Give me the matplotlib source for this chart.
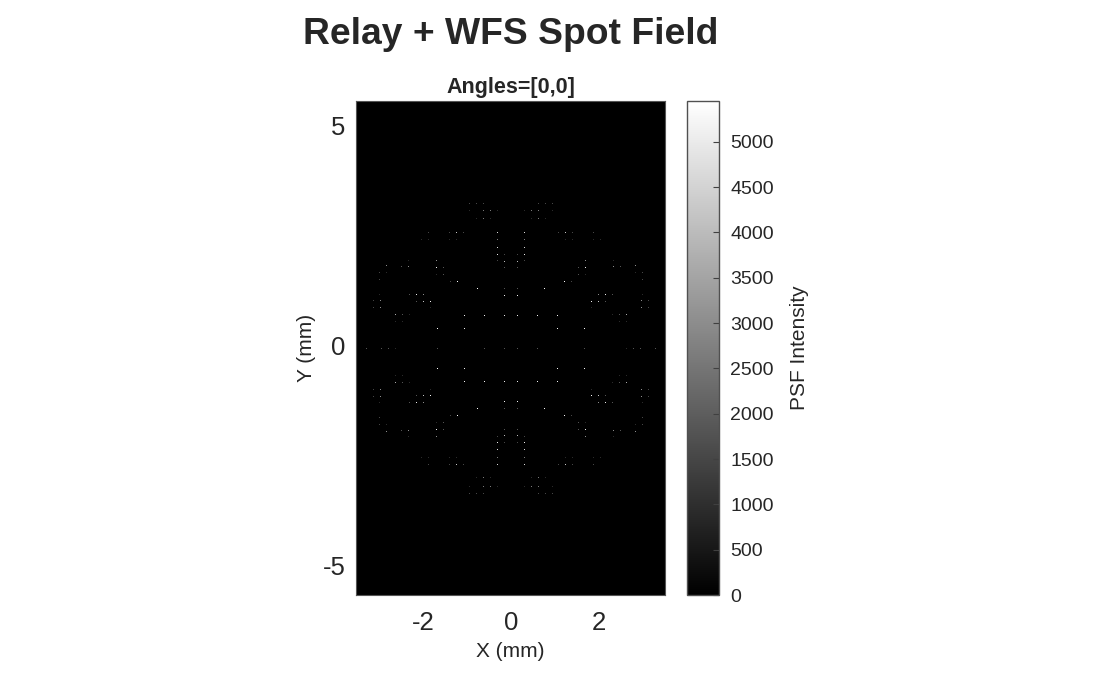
import numpy as np
import matplotlib
matplotlib.use("Agg")
import matplotlib.pyplot as plt
from matplotlib.transforms import ScaledTranslation

plt.rcParams['font.family'] = ['Liberation Sans', 'DejaVu Sans']

W, H = 1120, 674
text_col = '#262626'

# spots of the upper left quadrant: |x| mm, y mm, intensity
# the field is mirror symmetric about x=0 and y=0, so the other quadrants reuse these
spot_x = [
    0.95, 0.79, 0.63,
    0.95, 0.63, 0.47, 0.31,
    0.79, 0.63, 0.47,
    1.89, 1.41, 1.25, 1.09, 0.31,
    2.05, 1.89, 1.41, 1.25, 0.31,
    0.31,
    0.31, 0.15,
    1.70, 2.34, 0.31, 0.15,
    2.85,
    2.50, 2.34,
    1.70, 1.54, 0.15,
    3.01, 2.85,
    1.70, 1.54,
    3.01,
    1.38, 1.22,
    0.77, 0.15,
    2.32, 2.16, 2.00, 3.01,
    0.15,
    3.14, 2.98,
    2.16, 2.00, 1.84,
    3.14, 2.98, 1.84,
    2.64, 2.48, 2.32,
    1.06, 0.61, 0.15,
    2.64, 2.48,
    1.68, 1.06,
    3.30, 2.96, 2.80, 2.64, 1.68, 0.61, 0.15,
]
spot_y = [
    3.30, 3.30, 3.30,
    3.14, 3.14, 3.14, 3.14,
    2.95, 2.95, 2.95,
    2.64, 2.64, 2.64, 2.64, 2.64,
    2.48, 2.48, 2.48, 2.48, 2.48,
    2.30,
    2.14, 2.14,
    2.00, 2.00, 2.00, 1.98,
    1.89,
    1.86, 1.86,
    1.84, 1.84, 1.84,
    1.73, 1.73,
    1.68, 1.68,
    1.57,
    1.52, 1.52,
    1.36, 1.36,
    1.23, 1.23, 1.23, 1.23,
    1.20,
    1.09, 1.09,
    1.07, 1.07, 1.07,
    0.93, 0.93, 0.93,
    0.77, 0.77, 0.77,
    0.75, 0.75, 0.75,
    0.61, 0.61,
    0.45, 0.45,
    0.0, 0.0, 0.0, 0.0, 0.0, 0.0, 0.0,
]
spot_i = [
    1500, 1500, 1500,
    900, 2600, 2600, 900,
    900, 2600, 900,
    1500, 1500, 4200, 1500, 4600,
    900, 900, 900, 900, 2600,
    4600,
    5000, 1500,
    3000, 900, 1500, 4000,
    3000,
    1800, 3000,
    5200, 1800, 1800,
    1500, 900,
    900, 1800,
    1500,
    1500, 5400,
    5400, 1800,
    1800, 5000, 3000, 900,
    5200,
    1500, 3000,
    1800, 4200, 5200,
    1500, 3000, 900,
    3600, 1800, 900,
    5200, 5200, 5000,
    900, 900,
    5400, 5200,
    1800, 1800, 1800, 900, 1800, 1800, 1800,
]

x_ticks = [-2, 0, 2]
y_ticks = [-5, 0, 5]
cbar_ticks = [0, 500, 1000, 1500, 2000, 2500, 3000, 3500, 4000, 4500, 5000]
x_range = (-3.54, 3.52)
y_range = (-5.61, 5.62)
i_max = 5450


def px_axes(fig, left, top, right, bottom):
    return fig.add_axes([left / W, 1 - bottom / H, (right - left) / W, (bottom - top) / H])


fig = plt.figure(figsize=(W / 100, H / 100), dpi=100)
ax = px_axes(fig, 356, 101, 665, 595)
cax = px_axes(fig, 687, 101, 719, 595)

# one image cell per screen pixel, as the spots are single pixels in the reference
nx, ny = 309, 494
field = np.zeros((ny, nx))
x_edges = np.linspace(x_range[0], x_range[1], nx + 1)
y_edges = np.linspace(y_range[0], y_range[1], ny + 1)
for sx in (-1, 1):
    for sy in (-1, 1):
        for x, y, v in zip(spot_x, spot_y, spot_i):
            col = np.searchsorted(x_edges, sx * x) - 1
            row = np.searchsorted(y_edges, sy * y) - 1
            field[row, col] = v

im = ax.imshow(field, cmap='gray', vmin=0, vmax=i_max, origin='lower', aspect='auto',
               extent=[x_range[0], x_range[1], y_range[0], y_range[1]], interpolation='nearest')
ax.set_xticks(x_ticks)
ax.set_yticks(y_ticks)
ax.set_yticklabels(['-5', '0', '5'])
ax.set_xticklabels(['-2', '0', '2'])
ax.tick_params(axis='x', length=0, labelsize=18.5, labelcolor=text_col, pad=11.5)
ax.tick_params(axis='y', length=0, labelsize=18.5, labelcolor=text_col, pad=7.5)
# y tick labels sit a little above their spot rows in the reference
up = ScaledTranslation(0, 2 / 72, fig.dpi_scale_trans)
for lab in ax.get_yticklabels():
    lab.set_transform(lab.get_transform() + up)
ax.set_xlabel('X (mm)', fontsize=15, color=text_col, labelpad=5)
ax.set_ylabel('Y (mm)', fontsize=15, color=text_col, labelpad=5, y=0.5)
ax.set_title('Angles=[0,0]', fontsize=15.5, fontweight='bold', color=text_col, pad=6)
for s in ax.spines.values():
    s.set_color('#555555')
    s.set_linewidth(0.8)

cb = fig.colorbar(im, cax=cax)
cb.set_ticks(cbar_ticks)
cb.ax.tick_params(direction='in', length=4, width=0.8, color='#404040',
                  labelsize=14, labelcolor=text_col, pad=8)
cb.set_label('PSF Intensity', fontsize=15, color=text_col, labelpad=12)
cb.outline.set_edgecolor('#505050')
cb.outline.set_linewidth(1.0)

fig.text(511 / W, 1 - 35 / H, 'Relay + WFS Spot Field', fontsize=26.8, fontweight='bold',
         color=text_col, ha='center', va='center')

fig.savefig('out.png', dpi=100)
